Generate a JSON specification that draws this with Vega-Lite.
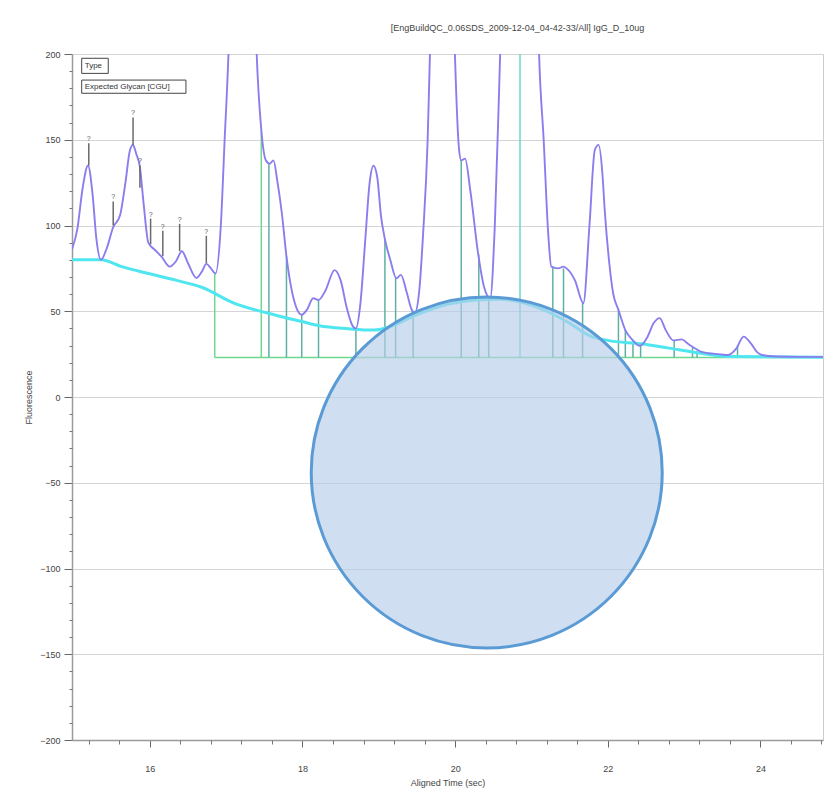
{
  "$schema": "https://vega.github.io/schema/vega-lite/v6.json",
  "width": 751,
  "height": 686,
  "autosize": {"type": "none"},
  "padding": {"left": 72, "top": 54, "right": 8, "bottom": 51},
  "background": "white",
  "config": {
    "font": "Liberation Sans",
    "view": {"stroke": "#cccccc", "strokeWidth": 1}
  },
  "title": {
    "text": "[EngBuildQC_0.06SDS_2009-12-04_04-42-33/All] IgG_D_10ug",
    "fontSize": 9,
    "fontWeight": "normal",
    "color": "#444444",
    "anchor": "middle",
    "offset": 17,
    "dx": 70
  },
  "datasets": {
    "trace": [
      {"t": 14.98, "v": 86}, {"t": 15.05, "v": 98}, {"t": 15.12, "v": 122}, {"t": 15.19, "v": 135},
      {"t": 15.25, "v": 118}, {"t": 15.3, "v": 92}, {"t": 15.36, "v": 80}, {"t": 15.43, "v": 86},
      {"t": 15.52, "v": 99}, {"t": 15.61, "v": 106}, {"t": 15.68, "v": 125}, {"t": 15.74, "v": 144},
      {"t": 15.78, "v": 147}, {"t": 15.82, "v": 142}, {"t": 15.87, "v": 134}, {"t": 15.92, "v": 112},
      {"t": 15.98, "v": 90}, {"t": 16.06, "v": 86}, {"t": 16.15, "v": 82}, {"t": 16.26, "v": 76},
      {"t": 16.34, "v": 79}, {"t": 16.42, "v": 85}, {"t": 16.5, "v": 78}, {"t": 16.61, "v": 69.4},
      {"t": 16.68, "v": 73}, {"t": 16.74, "v": 77.6}, {"t": 16.8, "v": 75}, {"t": 16.86, "v": 72},
      {"t": 16.93, "v": 100}, {"t": 16.98, "v": 150}, {"t": 17.03, "v": 200}, {"t": 17.1, "v": 320},
      {"t": 17.22, "v": 380}, {"t": 17.33, "v": 320}, {"t": 17.4, "v": 200}, {"t": 17.46, "v": 156},
      {"t": 17.52, "v": 138}, {"t": 17.57, "v": 136}, {"t": 17.62, "v": 138}, {"t": 17.67, "v": 126},
      {"t": 17.73, "v": 107}, {"t": 17.79, "v": 82}, {"t": 17.86, "v": 62}, {"t": 17.93, "v": 51},
      {"t": 17.99, "v": 48}, {"t": 18.06, "v": 51}, {"t": 18.14, "v": 57.6}, {"t": 18.21, "v": 56.6},
      {"t": 18.3, "v": 62}, {"t": 18.42, "v": 74}, {"t": 18.5, "v": 68}, {"t": 18.58, "v": 52},
      {"t": 18.65, "v": 42}, {"t": 18.7, "v": 40}, {"t": 18.76, "v": 55}, {"t": 18.82, "v": 90},
      {"t": 18.88, "v": 125}, {"t": 18.93, "v": 134.8}, {"t": 18.98, "v": 128}, {"t": 19.03, "v": 105},
      {"t": 19.08, "v": 92}, {"t": 19.15, "v": 80}, {"t": 19.23, "v": 69.2}, {"t": 19.29, "v": 71.2},
      {"t": 19.36, "v": 62}, {"t": 19.43, "v": 51}, {"t": 19.47, "v": 48.8}, {"t": 19.53, "v": 62},
      {"t": 19.58, "v": 95}, {"t": 19.64, "v": 150}, {"t": 19.67, "v": 200}, {"t": 19.75, "v": 330},
      {"t": 19.85, "v": 380}, {"t": 19.94, "v": 300}, {"t": 19.997, "v": 200}, {"t": 20.05, "v": 145},
      {"t": 20.08, "v": 138}, {"t": 20.13, "v": 139}, {"t": 20.2, "v": 120}, {"t": 20.3, "v": 84},
      {"t": 20.38, "v": 64}, {"t": 20.46, "v": 57.6}, {"t": 20.52, "v": 100}, {"t": 20.59, "v": 200},
      {"t": 20.75, "v": 420}, {"t": 20.9, "v": 460}, {"t": 21.03, "v": 350}, {"t": 21.1, "v": 200},
      {"t": 21.16, "v": 150}, {"t": 21.22, "v": 95}, {"t": 21.26, "v": 76}, {"t": 21.35, "v": 75},
      {"t": 21.42, "v": 76}, {"t": 21.46, "v": 75}, {"t": 21.57, "v": 68}, {"t": 21.68, "v": 54.7},
      {"t": 21.76, "v": 100}, {"t": 21.83, "v": 144}, {"t": 21.88, "v": 147}, {"t": 21.93, "v": 130},
      {"t": 21.96, "v": 109}, {"t": 22.02, "v": 78}, {"t": 22.07, "v": 60.5}, {"t": 22.14, "v": 50.8},
      {"t": 22.23, "v": 39}, {"t": 22.33, "v": 33}, {"t": 22.42, "v": 29.8}, {"t": 22.52, "v": 35},
      {"t": 22.6, "v": 43}, {"t": 22.68, "v": 46}, {"t": 22.76, "v": 39}, {"t": 22.86, "v": 33},
      {"t": 22.97, "v": 33.6}, {"t": 23.05, "v": 31}, {"t": 23.12, "v": 29}, {"t": 23.22, "v": 26.5},
      {"t": 23.32, "v": 25.5}, {"t": 23.45, "v": 25}, {"t": 23.58, "v": 24.5}, {"t": 23.68, "v": 28},
      {"t": 23.78, "v": 35.2}, {"t": 23.88, "v": 31}, {"t": 23.96, "v": 26}, {"t": 24.02, "v": 24.5},
      {"t": 24.2, "v": 23.6}, {"t": 24.5, "v": 23.4}, {"t": 24.82, "v": 23.4}
    ],
    "baseline": [
      {"t": 14.98, "v": 80}, {"t": 15.36, "v": 80}, {"t": 15.63, "v": 76}, {"t": 15.98, "v": 72},
      {"t": 16.35, "v": 68}, {"t": 16.68, "v": 64}, {"t": 17.11, "v": 54.6}, {"t": 17.55, "v": 48.8},
      {"t": 17.99, "v": 44}, {"t": 18.22, "v": 41.5}, {"t": 18.6, "v": 39.8}, {"t": 18.94, "v": 39},
      {"t": 19.12, "v": 40.5}, {"t": 19.5, "v": 48}, {"t": 19.9, "v": 54}, {"t": 20.3, "v": 56.5},
      {"t": 20.6, "v": 57}, {"t": 20.9, "v": 55}, {"t": 21.2, "v": 50}, {"t": 21.5, "v": 43},
      {"t": 21.75, "v": 36}, {"t": 22.0, "v": 33}, {"t": 22.44, "v": 31}, {"t": 22.8, "v": 28.5},
      {"t": 23.22, "v": 25.5}, {"t": 23.6, "v": 23.6}, {"t": 24.82, "v": 23.2}
    ],
    "bounds": [
      {"t": 16.85, "top": 72, "kind": "start"}, {"t": 17.46, "top": 156, "kind": "start"},
      {"t": 17.56, "top": 136, "kind": "peak"}, {"t": 17.79, "top": 82, "kind": "peak"},
      {"t": 17.99, "top": 48, "kind": "peak"}, {"t": 18.21, "top": 56.6, "kind": "peak"},
      {"t": 18.7, "top": 40, "kind": "peak"}, {"t": 19.08, "top": 92, "kind": "peak"},
      {"t": 19.22, "top": 69.5, "kind": "peak"}, {"t": 19.45, "top": 49, "kind": "peak"},
      {"t": 20.08, "top": 138, "kind": "peak"}, {"t": 20.31, "top": 83, "kind": "peak"},
      {"t": 20.44, "top": 57.6, "kind": "peak"}, {"t": 20.85, "top": 200, "kind": "main"},
      {"t": 21.28, "top": 76, "kind": "peak"}, {"t": 21.42, "top": 75, "kind": "peak"},
      {"t": 21.67, "top": 55, "kind": "peak"}, {"t": 22.14, "top": 50.8, "kind": "peak"},
      {"t": 22.23, "top": 39, "kind": "peak"}, {"t": 22.33, "top": 33, "kind": "peak"},
      {"t": 22.43, "top": 30, "kind": "peak"}, {"t": 22.87, "top": 33, "kind": "peak"},
      {"t": 23.11, "top": 29, "kind": "peak"}, {"t": 23.17, "top": 27, "kind": "peak"},
      {"t": 23.7, "top": 30, "kind": "peak"}
    ],
    "step": [{"t": 16.85, "t2": 24.82, "v": 23}],
    "notes": [
      {"t": 15.2, "lo": 135, "hi": 148, "label": "?"},
      {"t": 15.52, "lo": 100, "hi": 114, "label": "?"},
      {"t": 15.78, "lo": 147, "hi": 163, "label": "?"},
      {"t": 15.87, "lo": 122, "hi": 135, "label": "?"},
      {"t": 16.01, "lo": 89, "hi": 104, "label": "?"},
      {"t": 16.17, "lo": 82, "hi": 97, "label": "?"},
      {"t": 16.39, "lo": 85, "hi": 101, "label": "?"},
      {"t": 16.74, "lo": 78, "hi": 94, "label": "?"}
    ],
    "legendBoxes": [
      {"t": 15.107, "t2": 15.455, "v": 188.7, "v2": 197.5, "mid": 193.1, "label": "Type"},
      {"t": 15.107, "t2": 16.473, "v": 177.1, "v2": 184.8, "mid": 181.0, "label": "Expected Glycan [CGU]"}
    ],
    "overlay": [{"t": 20.414, "v": -44}]
  },
  "resolve": {"axis": {"x": "independent", "y": "independent"}},
  "layer": [
    {
      "data": {"name": "step"},
      "mark": {"type": "rule", "color": "#6fd88f", "strokeWidth": 1.5},
      "encoding": {
        "x": {"field": "t", "type": "quantitative", "scale": {"domain": [14.98, 24.82], "nice": false, "zero": false},
          "axis": {"values": [16, 18, 20, 22, 24], "format": "d", "grid": false, "orient": "bottom",
            "domainColor": "#9a9a9a", "domainWidth": 1.5, "tickColor": "#666666", "tickSize": 7, "tickWidth": 1,
            "labelFontSize": 9, "labelColor": "#444444", "labelPadding": 17,
            "title": "Aligned Time (sec)", "titleFontSize": 9, "titleFontWeight": "normal", "titleColor": "#444444", "titlePadding": 5}},
        "x2": {"field": "t2"},
        "y": {"field": "v", "type": "quantitative", "scale": {"domain": [-200, 200], "nice": false, "zero": false},
          "axis": {"values": [-200, -150, -100, -50, 0, 50, 100, 150, 200], "grid": true, "gridColor": "#d4d4d4", "orient": "left",
            "domainColor": "#9a9a9a", "domainWidth": 1.5, "tickColor": "#666666", "tickSize": 8, "tickWidth": 1,
            "labelFontSize": 9, "labelColor": "#444444", "labelPadding": 4,
            "title": "Fluorescence", "titleFontSize": 9, "titleFontWeight": "normal", "titleColor": "#444444", "titlePadding": 6}}
      }
    },
    {
      "data": {"name": "bounds"},
      "mark": {"type": "rule", "strokeWidth": 1.5},
      "encoding": {
        "x": {"field": "t", "type": "quantitative",
          "axis": {"values": [15.2, 15.6, 16.4, 16.8, 17.2, 17.6, 18.4, 18.8, 19.2, 19.6, 20.4, 20.8, 21.2, 21.6, 22.4, 22.8, 23.2, 23.6, 24.4, 24.8],
            "orient": "bottom", "grid": false, "domain": false, "labels": false, "tickSize": 4, "tickColor": "#777777", "title": null}},
        "y": {"field": "top", "type": "quantitative",
          "axis": {"values": [-190, -180, -170, -160, -140, -130, -120, -110, -90, -80, -70, -60, -40, -30, -20, -10, 10, 20, 30, 40, 60, 70, 80, 90, 110, 120, 130, 140, 160, 170, 180, 190],
            "orient": "left", "grid": false, "domain": false, "labels": false, "tickSize": 3, "tickColor": "#777777", "title": null}},
        "y2": {"datum": 23},
        "color": {"field": "kind", "type": "nominal", "legend": null,
          "scale": {"domain": ["start", "peak", "main"], "range": ["#6fd88f", "#5fb0a3", "#6cd6cc"]}}
      }
    },
    {
      "data": {"name": "baseline"},
      "mark": {"type": "line", "color": "#4fe6f0", "strokeWidth": 3, "interpolate": "monotone", "clip": true},
      "encoding": {
        "x": {"field": "t", "type": "quantitative", "axis": null},
        "y": {"field": "v", "type": "quantitative", "axis": null}
      }
    },
    {
      "data": {"name": "trace"},
      "mark": {"type": "line", "color": "#8a7eef", "strokeWidth": 1.9, "interpolate": "monotone", "clip": true},
      "encoding": {
        "x": {"field": "t", "type": "quantitative", "axis": null},
        "y": {"field": "v", "type": "quantitative", "axis": null}
      }
    },
    {
      "data": {"name": "notes"},
      "mark": {"type": "rule", "color": "#6a6a6a", "strokeWidth": 1.5},
      "encoding": {
        "x": {"field": "t", "type": "quantitative", "axis": null},
        "y": {"field": "lo", "type": "quantitative", "axis": null},
        "y2": {"field": "hi"}
      }
    },
    {
      "data": {"name": "notes"},
      "mark": {"type": "text", "color": "#555555", "fontSize": 7, "baseline": "bottom", "dy": -1},
      "encoding": {
        "x": {"field": "t", "type": "quantitative", "axis": null},
        "y": {"field": "hi", "type": "quantitative", "axis": null},
        "text": {"field": "label"}
      }
    },
    {
      "data": {"name": "legendBoxes"},
      "mark": {"type": "rect", "fill": "white", "stroke": "#444444", "strokeWidth": 1},
      "encoding": {
        "x": {"field": "t", "type": "quantitative", "axis": null},
        "x2": {"field": "t2"},
        "y": {"field": "v", "type": "quantitative", "axis": null},
        "y2": {"field": "v2"}
      }
    },
    {
      "data": {"name": "legendBoxes"},
      "mark": {"type": "text", "color": "#333333", "fontSize": 8, "align": "left", "baseline": "middle", "dx": 3},
      "encoding": {
        "x": {"field": "t", "type": "quantitative", "axis": null},
        "y": {"field": "mid", "type": "quantitative", "axis": null},
        "text": {"field": "label"}
      }
    },
    {
      "data": {"name": "overlay"},
      "mark": {"type": "point", "shape": "circle", "size": 123200, "filled": true, "fill": "#b6cde8", "fillOpacity": 0.66,
        "stroke": "#5b9bd5", "strokeWidth": 3, "strokeOpacity": 1, "opacity": 1},
      "encoding": {
        "x": {"field": "t", "type": "quantitative", "axis": null},
        "y": {"field": "v", "type": "quantitative", "axis": null}
      }
    }
  ]
}
